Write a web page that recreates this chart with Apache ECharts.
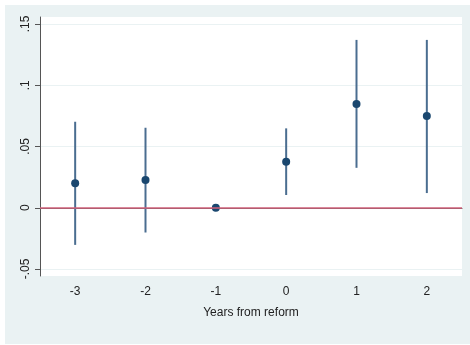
<!DOCTYPE html>
<html>
<head>
<meta charset="utf-8">
<script src="https://cdn.jsdelivr.net/npm/echarts@6/dist/echarts.min.js"></script>
<style>
  html, body { margin: 0; padding: 0; background: #ffffff; }
  #chart { width: 470px; height: 345px; }
</style>
</head>
<body>
<div id="chart"></div>
<script>
// years relative to the reform
const years = ["-3", "-2", "-1", "0", "1", "2"];
// point estimates and 95% CI bounds (reference year -1 has no interval)
const estimates = [0.020, 0.0226, 0, 0.0376, 0.0847, 0.0748];
const ciLower = [-0.0303, -0.0202, null, 0.0104, 0.0326, 0.012];
const ciUpper = [0.0702, 0.0653, null, 0.0648, 0.137, 0.137];
const yTicks = [-0.05, 0, 0.05, 0.1, 0.15];
const yTickLabels = ["-.05", "0", ".05", ".1", ".15"];

const chartDom = document.getElementById("chart");
const myChart = echarts.init(chartDom);

const ciData = years
  .map((y, i) => [i, ciLower[i], ciUpper[i]])
  .filter((d) => d[1] !== null);

const option = {
  backgroundColor: "#ffffff",
  animation: false,
  graphic: [
    {
      type: "rect",
      left: 5,
      top: 5,
      shape: { width: 465, height: 339 },
      style: { fill: "#EAF2F3" },
      z: -10,
    },
  ],
  grid: {
    left: 40,
    right: 8,
    top: 17,
    bottom: 69,
    show: true,
    backgroundColor: "#ffffff",
    borderWidth: 0,
  },
  xAxis: {
    type: "category",
    data: years,
    boundaryGap: true,
    name: "Years from reform",
    nameLocation: "middle",
    nameGap: 31,
    nameTextStyle: { fontFamily: "Liberation Sans", fontSize: 12, color: "#222" },
    axisLine: { lineStyle: { color: "#555", width: 1 } },
    axisTick: { alignWithLabel: true, length: 5, lineStyle: { color: "#555" } },
    axisLabel: { fontFamily: "Liberation Sans", fontSize: 12, color: "#222", margin: 10 },
    splitLine: { show: false },
  },
  yAxis: {
    type: "value",
    min: -0.0557,
    max: 0.1557,
    axisLine: { show: true, lineStyle: { color: "#555", width: 1 } },
    axisTick: { show: true, length: 5, customValues: yTicks, lineStyle: { color: "#555" } },
    axisLabel: {
      customValues: yTicks,
      rotate: 90,
      margin: 8,
      fontFamily: "Liberation Sans",
      fontSize: 12,
      color: "#222",
      formatter: function (value) {
        const idx = yTicks.findIndex((t) => Math.abs(t - value) < 1e-9);
        return idx >= 0 ? yTickLabels[idx] : "";
      },
    },
    splitLine: { show: true, lineStyle: { color: "#EAF2F3", width: 1 } },
  },
  series: [
    {
      type: "custom",
      data: ciData,
      z: 2,
      renderItem: function (params, api) {
        const lo = api.coord([api.value(0), api.value(1)]);
        const hi = api.coord([api.value(0), api.value(2)]);
        return {
          type: "line",
          shape: { x1: lo[0], y1: lo[1], x2: hi[0], y2: hi[1] },
          style: { stroke: "#4a6d90", lineWidth: 2 },
        };
      },
    },
    {
      type: "scatter",
      data: estimates,
      symbol: "circle",
      symbolSize: 8,
      itemStyle: { color: "#1A476F", opacity: 1 },
      z: 3,
      markLine: {
        silent: true,
        symbol: "none",
        label: { show: false },
        lineStyle: { color: "#D0607A", width: 1.5, type: "solid", opacity: 1 },
        data: [{ yAxis: 0 }],
      },
    },
  ],
};

myChart.setOption(option);
</script>
</body>
</html>
